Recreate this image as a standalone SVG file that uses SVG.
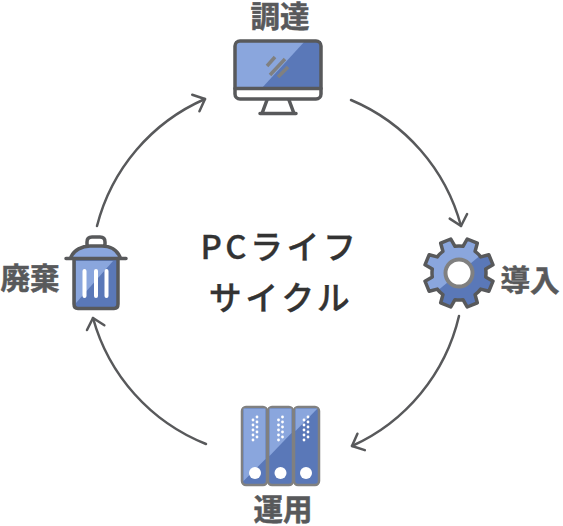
<svg xmlns="http://www.w3.org/2000/svg" width="563" height="526" viewBox="0 0 563 526">
<style>
.lbl{font-family:"Liberation Sans","Noto Sans CJK JP",sans-serif;font-weight:700;font-size:29.5px;fill:#58595b;stroke:#58595b;stroke-width:.5;text-anchor:middle}
.ttl{font-family:"Noto Sans CJK JP","Noto Sans",sans-serif;font-weight:500;font-size:33px;fill:#333;stroke:#333;stroke-width:.3;text-anchor:middle;letter-spacing:3.5px}
.conn{fill:none;stroke:#58595b;stroke-width:2.5;stroke-linecap:round;marker-end:url(#chev)}
.ln{fill:none;stroke:#58595b;stroke-width:3.5;stroke-linecap:round;stroke-linejoin:round}
.dk{fill:#5a78b8}
.lt{fill:#8aa6dd}
.glass{stroke:#808080;stroke-width:3.5;fill:none}
.w{fill:#fff}
</style>
<defs>
<marker id="chev" markerUnits="userSpaceOnUse" markerWidth="24" markerHeight="24" refX="12" refY="12" orient="auto" overflow="visible">
<path d="M2 3 L12 12 L2 21" fill="none" stroke="#58595b" stroke-width="2.5" stroke-linecap="round" stroke-linejoin="round"/>
</marker>
<clipPath id="gearClip"><path d="M26.7,4L34,8.2L29.8,18.3L21.7,16.1A27 27 0 0 1 16.1,21.7L18.3,29.8L8.2,34L4,26.7A27 27 0 0 1 -4,26.7L-8.2,34L-18.3,29.8L-16.1,21.7A27 27 0 0 1 -21.7,16.1L-29.8,18.3L-34,8.2L-26.7,4A27 27 0 0 1 -26.7,-4L-34,-8.2L-29.8,-18.3L-21.7,-16.1A27 27 0 0 1 -16.1,-21.7L-18.3,-29.8L-8.2,-34L-4,-26.7A27 27 0 0 1 4,-26.7L8.2,-34L18.3,-29.8L16.1,-21.7A27 27 0 0 1 21.7,-16.1L29.8,-18.3L34,-8.2L26.7,-4A27 27 0 0 1 26.7,4Z"/></clipPath>
</defs>
<g id="connectors">
<path class="conn" d="M351 100 A190 190 0 0 1 461 226"/>
<path class="conn" d="M459 316 A190 190 0 0 1 352 446"/>
<path class="conn" d="M206 444 A190 190 0 0 1 93 318"/>
<path class="conn" d="M97 226 A190 190 0 0 1 205 99"/>
</g>
<g id="center-label">
<text class="ttl" x="280" y="259">PCライフ</text>
<text class="ttl" x="281" y="310">サイクル</text>
</g>
<g id="node-procure">
<rect class="dk" x="235" y="41" width="86" height="48"/>
<polygon class="lt" points="235,41 305,41 261,89 235,89"/>
<path class="glass" d="M275 57L267 66M285 59L270 75M288 67L278 77"/>
<rect class="ln" x="235" y="41" width="86" height="58" rx="5"/>
<path class="ln" d="M235 88.500H321M267 100L262 113.500M289 100L294 113.500M260 113.500H296"/>
<text class="lbl" x="280" y="26.500">調達</text>
</g>
<g id="node-deploy">
<g transform="translate(459 273)">
<g clip-path="url(#gearClip)">
<rect class="dk" x="-40" y="-40" width="80" height="80"/>
<polygon class="lt" points="-40,-40 40,-40 40,-33 -40,33"/>
</g>
<path class="ln" d="M26.7,4L34,8.2L29.8,18.3L21.7,16.1A27 27 0 0 1 16.1,21.7L18.3,29.8L8.2,34L4,26.7A27 27 0 0 1 -4,26.7L-8.2,34L-18.3,29.8L-16.1,21.7A27 27 0 0 1 -21.7,16.1L-29.8,18.3L-34,8.2L-26.7,4A27 27 0 0 1 -26.7,-4L-34,-8.2L-29.8,-18.3L-21.7,-16.1A27 27 0 0 1 -16.1,-21.7L-18.3,-29.8L-8.2,-34L-4,-26.7A27 27 0 0 1 4,-26.7L8.2,-34L18.3,-29.8L16.1,-21.7A27 27 0 0 1 21.7,-16.1L29.8,-18.3L34,-8.2L26.7,-4A27 27 0 0 1 26.7,4Z"/>
<circle r="13.500" fill="#fff" stroke="#808080" stroke-width="4"/>
</g>
<text class="lbl" x="530" y="291">導入</text>
</g>
<g id="node-operate">
<g stroke="#808080" stroke-width="2.500">
<rect class="dk" x="242" y="407" width="25" height="78" rx="4"/>
<rect class="dk" x="268" y="407" width="25" height="78" rx="4"/>
<rect class="dk" x="294" y="407" width="25" height="78" rx="4"/>
</g>
<polygon class="lt" points="243.500,408.500 265.500,408.500 265.500,459 243.500,481"/>
<polygon class="lt" points="269.500,408.500 291.500,408.500 291.500,433 269.500,456"/>
<polygon class="lt" points="295.500,408.500 317.500,408.500 295.500,431"/>
<g class="w">
<circle cx="255" cy="473" r="6"/><circle cx="280.500" cy="473" r="6"/><circle cx="306" cy="473" r="6"/>
<g><circle cx="253" cy="420" r="1.400"/><circle cx="253" cy="425" r="1.400"/><circle cx="253" cy="430" r="1.400"/><circle cx="253" cy="435" r="1.400"/><circle cx="253" cy="440" r="1.400"/><circle cx="257" cy="417" r="1.400"/><circle cx="257" cy="422" r="1.400"/><circle cx="257" cy="427" r="1.400"/><circle cx="257" cy="432" r="1.400"/><circle cx="257" cy="437" r="1.400"/></g>
<g transform="translate(25.500 0)"><circle cx="253" cy="420" r="1.400"/><circle cx="253" cy="425" r="1.400"/><circle cx="253" cy="430" r="1.400"/><circle cx="253" cy="435" r="1.400"/><circle cx="253" cy="440" r="1.400"/><circle cx="257" cy="417" r="1.400"/><circle cx="257" cy="422" r="1.400"/><circle cx="257" cy="427" r="1.400"/><circle cx="257" cy="432" r="1.400"/><circle cx="257" cy="437" r="1.400"/></g>
<g transform="translate(51 0)"><circle cx="253" cy="420" r="1.400"/><circle cx="253" cy="425" r="1.400"/><circle cx="253" cy="430" r="1.400"/><circle cx="253" cy="435" r="1.400"/><circle cx="253" cy="440" r="1.400"/><circle cx="257" cy="417" r="1.400"/><circle cx="257" cy="422" r="1.400"/><circle cx="257" cy="427" r="1.400"/><circle cx="257" cy="432" r="1.400"/><circle cx="257" cy="437" r="1.400"/></g>
</g>
<text class="lbl" x="283" y="519.500">運用</text>
</g>
<g id="node-dispose">
<path class="lt" d="M71 257C74 250 82 246 90 246H102C110 246 117 250 120 257Z"/>
<rect class="dk" x="74" y="259" width="44" height="49" rx="4"/>
<polygon class="lt" points="76,261 113,261 76,303"/>
<path class="ln" d="M87 245V242Q87 237 92 237H100Q105 237 105 242V245M71 257C74 250 82 246 90 246H102C110 246 117 250 120 257M66 258.500H126M74 259V304Q74 308.500 78 308.500H114Q118 308.500 118 304V259"/>
<g stroke="#fff" stroke-width="4" stroke-linecap="round"><path d="M84.500 271V296M96 271V296M106.500 271V296"/></g>
<text class="lbl" x="30" y="289">廃棄</text>
</g>
</svg>
